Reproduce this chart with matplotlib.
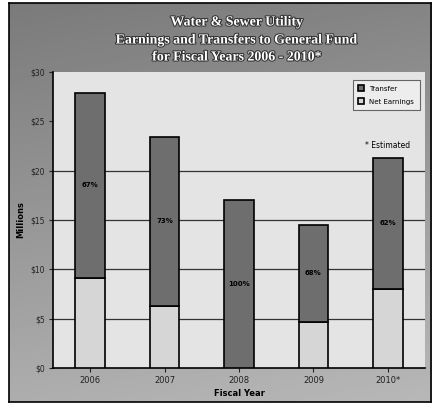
import matplotlib
matplotlib.use("Agg")
import matplotlib.pyplot as plt
import matplotlib.patheffects as pe
import numpy as np

years = ["2006", "2007", "2008", "2009", "2010*"]
net_earnings = [9.1, 6.3, 0.0, 4.7, 8.0]
transfer = [18.8, 17.1, 17.0, 9.8, 13.3]
pct_labels = ["67%", "73%", "100%", "68%", "62%"]
yticks = [0, 5, 10, 15, 20, 25, 30]
ytick_labels = ["$0", "$5", "$10", "$15", "$20", "$25", "$30"]

W, H = 440, 413
fig = plt.figure(figsize=(W / 100, H / 100), dpi=100, facecolor="white")

def fx(x):
    return x / W

def fy(y):
    return 1 - y / H

# outer gray panel with gradient
bg = fig.add_axes([fx(9), fy(402), fx(431) - fx(9), fy(3) - fy(402)])
yy = np.linspace(0, 1, 200)[:, None]
xx = np.linspace(0, 1, 200)[None, :]
grad = 0.48 + 0.2 * yy + 0.04 * xx
grad = np.clip(grad, 0, 1)
bg.imshow(grad, cmap="gray", vmin=0, vmax=1, aspect="auto", extent=[0, 1, 1, 0])
bg.set_xticks([])
bg.set_yticks([])
for s in bg.spines.values():
    s.set_color("black")
    s.set_linewidth(1.2)

ax = fig.add_axes([fx(53), fy(368), fx(425) - fx(53), fy(72) - fy(368)])
ax.set_facecolor("#e4e4e4")
x = np.arange(len(years))
ax.bar(x, net_earnings, width=0.4, color="#d6d6d6", edgecolor="black",
       linewidth=1.2, label="Net Earnings", zorder=3)
ax.bar(x, transfer, width=0.4, bottom=net_earnings, color="#6e6e6e",
       edgecolor="black", linewidth=1.2, label="Transfer", zorder=3)
for xi, b, t, lab in zip(x, net_earnings, transfer, pct_labels):
    ax.text(xi, b + t / 2, lab, ha="center", va="center", fontsize=5,
            fontweight="bold", color="black", zorder=4)

ax.set_xlim(-0.5, 4.5)
ax.set_ylim(0, 30)
ax.set_yticks(yticks)
ax.set_yticklabels(ytick_labels, fontsize=5.5, color="#222222")
ax.set_xticks(x)
ax.set_xticklabels(years, fontsize=6, color="#222222")
ax.tick_params(axis="both", length=3, width=0.8, color="#222222", pad=3)
for v in [5, 10, 15, 20]:
    ax.axhline(v, color="#333333", linewidth=0.9, zorder=1)
for side in ["top", "right"]:
    ax.spines[side].set_visible(False)
ax.spines["left"].set_linewidth(1.2)
ax.spines["bottom"].set_linewidth(1.2)

ax.set_xlabel("Fiscal Year", fontsize=6, fontweight="bold", labelpad=3)
fig.text(fx(21), fy(220), "Millions", rotation=90, fontsize=6,
         fontweight="bold", ha="center", va="center")

handles, labels = ax.get_legend_handles_labels()
leg = ax.legend(handles[::-1], labels[::-1], loc="upper right",
                bbox_to_anchor=(0.995, 0.985), fontsize=5, frameon=True,
                fancybox=False, edgecolor="#444444", facecolor="#f0f0f0",
                handlelength=0.8, handleheight=0.8, labelspacing=1.0,
                borderpad=0.8)
leg.get_frame().set_linewidth(0.8)

fig.text(fx(388), fy(146), "* Estimated", fontsize=5.5, ha="center",
         va="center", color="black")

titles = ["Water & Sewer Utility",
          "Earnings and Transfers to General Fund",
          "for Fiscal Years 2006 - 2010*"]
for t, ypos in zip(titles, [22, 40, 57]):
    fig.text(fx(237), fy(ypos), t, fontsize=10, family="Liberation Serif",
             fontweight="bold", color="white", ha="center", va="center",
             path_effects=[pe.withStroke(linewidth=1.5, foreground="#333333")])

fig.savefig("out.png", dpi=100, facecolor="white")
